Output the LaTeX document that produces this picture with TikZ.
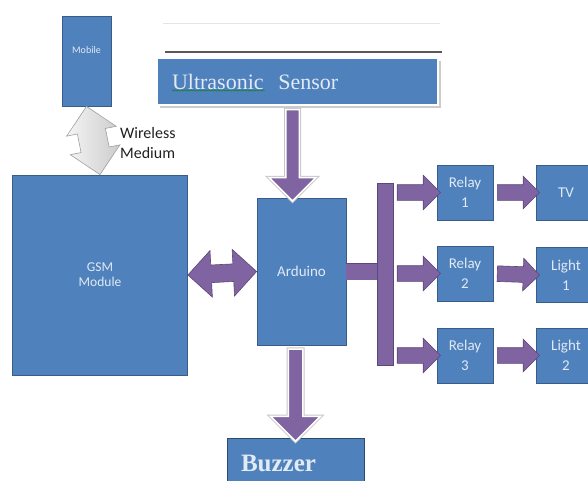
\documentclass[tikz,border=0pt]{standalone}
\usepackage{fontspec}
\setmainfont{Carlito}
\newfontfamily\serifface{Liberation Serif}
\usetikzlibrary{calc, shapes.arrows, shadows, decorations.pathmorphing}
\definecolor{boxblue}{RGB}{79,129,189}
\definecolor{boxline}{RGB}{56,93,138}
\definecolor{boxtext}{RGB}{225,234,245}
\definecolor{arrowpurple}{RGB}{128,100,162}
\definecolor{arrowline}{RGB}{92,71,118}
\tikzstyle{box} = [rectangle, draw = boxline, fill = boxblue, line width = 0.8pt, text = boxtext, inner sep = 0pt, align = center, font = \fontsize{15}{20}\selectfont]
\tikzstyle{flow} = [single arrow, draw = arrowline, fill = arrowpurple, line width = 0.6pt, inner xsep = 0pt, inner ysep = 7.5pt, single arrow head extend = 9.5pt]
\tikzstyle{feed} = [single arrow, draw = white, fill = arrowpurple, line width = 1.5pt, inner xsep = 0pt, preaction = {draw = gray!45, line width = 3.5pt}]
\tikzstyle{link} = [double arrow, draw = arrowline, fill = arrowpurple, line width = 0.6pt, inner xsep = 0pt, inner ysep = 8.5pt, double arrow head extend = 14.5pt]
\tikzstyle{wireless} = [double arrow, draw = gray!75, left color = gray!8, right color = gray!40, line width = 0.6pt, inner xsep = 0pt, inner ysep = 14pt, double arrow head extend = 11pt]
\tikzstyle{busline} = [draw = arrowline, double = arrowpurple, double distance = 16pt, line width = 0.6pt]
\newcommand{\fatarrow}[3]{% style, from, to
  \path let \p1 = #2, \p2 = #3, \n1 = {atan2(\y2-\y1, \x2-\x1)}, \n2 = {veclen(\x2-\x1, \y2-\y1)} in
    node [#1, rotate = \n1, minimum height = \n2] at ($(\p1)!0.5!(\p2)$) {};}

\begin{document}
\begin{tikzpicture}[x = 1pt, y = -1pt]
    \useasboundingbox (0, 0) rectangle (588, 481);
    \draw [gray!20, line width = 0.6pt] (163, 23) -- (440, 23);
    \draw [gray!70!black, line width = 1.2pt] (165, 52) -- (442, 52);

    \node (mobile) at (86.5, 61) [box, minimum width = 49pt, minimum height = 90pt, font = \fontsize{10}{12}\selectfont] {Mobile\\[10pt]\mbox{}};
    \node (gsm) at (100, 275) [box, minimum width = 175pt, minimum height = 200pt, font = \fontsize{13.5}{15}\selectfont] {GSM\\Module};
    \node (ard) at (301.5, 271.5) [box, minimum width = 89pt, minimum height = 147pt] {Arduino};
    \node (us) at (297.5, 81.5) [box, draw = white, line width = 2.5pt, general shadow = {fill = gray!40, shadow xshift = 3pt, shadow yshift = -3pt}, minimum width = 281pt, minimum height = 47pt, text width = 251pt, align = left, font = \serifface\fontsize{22}{26}\selectfont] {Ultrasonic\ \ Sensor};
    \draw [green!50!black, decorate, decoration = {snake, amplitude = 0.7pt, segment length = 3pt}] ([shift = {(16, 9)}]us.west) -- ++(93, 0);
    \node (buzzer) at (295.5, 463) [box, draw = boxline!80!black, minimum width = 137pt, minimum height = 50pt, text width = 109pt, align = left, font = \serifface\bfseries\fontsize{25}{30}\selectfont] {Buzzer};
    \node (medium) at (120, 143) [anchor = west, align = left, text = gray!25!black, font = \fontsize{16}{20}\selectfont, inner sep = 0pt] {Wireless\\Medium};

    \node (relay1) at (465, 192.5) [box, minimum width = 56pt, minimum height = 55pt] {Relay\\1};
    \node (relay2) at (465, 273.5) [box, minimum width = 56pt, minimum height = 55pt] {Relay\\2};
    \node (relay3) at (465, 355.5) [box, minimum width = 56pt, minimum height = 55pt] {Relay\\3};
    \node (tv) at (566, 192.5) [box, minimum width = 60pt, minimum height = 55pt] {TV};
    \node (light1) at (566, 275) [box, minimum width = 60pt, minimum height = 55pt] {Light\\1};
    \node (light2) at (566, 355.5) [box, minimum width = 60pt, minimum height = 55pt] {Light\\2};

    \fatarrow{wireless}{(mobile.south)}{(gsm.north)}
    \fatarrow{link}{(gsm.east)}{(ard.west)}
    \fatarrow{feed, inner ysep = 6pt, single arrow head extend = 16.5pt}{([xshift = -9pt]ard.north |- us.south)}{([xshift = -9pt]ard.north)}
    \fatarrow{feed, inner ysep = 6.5pt, single arrow head extend = 17.5pt}{(buzzer.north |- ard.south)}{(buzzer.north)}

    \node (bus) at (385, 274) [rectangle, draw = arrowline, fill = arrowpurple, line width = 0.6pt, minimum width = 16pt, minimum height = 182pt, inner sep = 0pt] {};
    \draw [busline] (ard.east) -- (ard.east -| bus.west);
    \fatarrow{flow}{(bus.east |- relay1.west)}{(relay1.west)}
    \fatarrow{flow}{(bus.east |- relay2.west)}{(relay2.west)}
    \fatarrow{flow}{(bus.east |- relay3.west)}{(relay3.west)}
    \fatarrow{flow, single arrow head extend = 8.5pt}{(relay1.east)}{(tv.west)}
    \fatarrow{flow, single arrow head extend = 8.5pt}{(relay2.east)}{(light1.west)}
    \fatarrow{flow, single arrow head extend = 8.5pt}{(relay3.east)}{(light2.west)}
\end{tikzpicture}
\end{document}
